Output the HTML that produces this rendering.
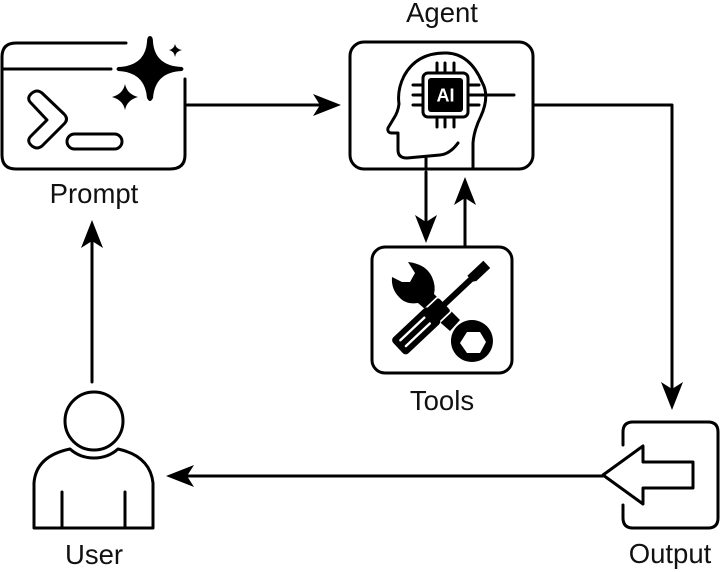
<!DOCTYPE html>
<html><head><meta charset="utf-8"><style>html,body{margin:0;padding:0;background:#fff}svg{display:block;filter:blur(.35px)}text{font-family:"Liberation Sans",sans-serif;font-size:27.5px;fill:#111;text-anchor:middle}</style></head>
<body>
<svg width="720" height="572" viewBox="0 0 720 572" xmlns="http://www.w3.org/2000/svg">
<g fill="none" stroke="#000" stroke-width="3" stroke-linecap="round" stroke-linejoin="round">
<!-- Prompt -->
<path d="M126 43H16Q2 43 2 57V155Q2 169 16 169H170Q185 169 185 155V79"/>
<path d="M2 69H111"/>
<path d="M32 93Q37 89 42 93L64 114Q69 119 64 124L42 146Q37 150 32 146Q26 141 31 136L47 120L31 103Q26 98 32 93Z"/>
<rect x="67" y="134" width="55" height="15" rx="7.5"/>
<!-- Agent -->
<rect x="350" y="42" width="183" height="127" rx="14"/>
<path d="M473 168V143Q474 130 481 116Q490 96 482 82Q470 54 447 53Q417 52 404 76Q397 90 399 104Q398 112 394 118L388 128Q387 133 392 133H398V150Q398 158 407 158L440 155Q450 154 458 143"/>
<path d="M426 158V168"/>
<rect x="423" y="73" width="45" height="44" rx="5"/>
<path d="M437 63V73M445 63V73M454 63V73M437 117V127M445 117V127M454 117V127M413 85H423M413 95H423M413 105H423M468 85H479M468 105H479M468 95H514"/>
<!-- Tools -->
<rect x="372" y="247" width="140" height="126" rx="13"/>
<!-- User -->
<circle cx="94" cy="421" r="29"/>
<path d="M34 528V483Q36 456 70 449Q80 458 94 458Q108 458 118 449Q150 456 153 483V528Z"/>
<path d="M62 492V528M125 492V528"/>
<!-- Output -->
<path d="M623 445V432Q623 422 633 422H708Q718 422 718 432V518Q718 528 708 528H633Q623 528 623 518V505"/>
<path d="M603 475L643 446V462H693V488H643V504Z"/>
<!-- Connectors -->
<path d="M187 105H325M533 105H672V395M426 172V228M465 247V192M92 382V235M603 476H180"/>
</g>
<!-- Arrowheads -->
<g fill="#000">
<path d="M341 105L313 94L320 105L313 116Z"/>
<path d="M672 410L661 382L672 389L683 382Z"/>
<path d="M426 243L415 215L426 222L437 215Z"/>
<path d="M465 177L454 205L465 198L476 205Z"/>
<path d="M92 220L81 248L92 241L103 248Z"/>
<path d="M166 476L194 465L187 476L194 487Z"/>
<!-- Stars -->
<path d="M150 36Q153 36 153 42Q155 66 182 67Q185 69 182 71Q155 72 153 98Q150 104 147 98Q145 72 118 71Q115 69 118 67Q145 66 147 42Q147 36 150 36Z"/>
<path d="M125 84Q127 94 138 97Q127 100 125 110Q123 100 112 97Q123 94 125 84Z"/>
<path d="M175 44Q176 49 182 50Q176 51 175 57Q174 51 169 50Q174 49 175 44Z"/>
<!-- Chip -->
<rect x="428" y="78" width="35" height="34" rx="3"/>
<!-- Wrench head and handle -->
<path d="M408 262Q426 264 432 277Q436 286 434 294L460 320L450 331L418 303Q406 305 399 297Q391 289 392 277L402 282H410L415 273Z"/>
<!-- Wrench ring with hexagonal hole -->
<path fill-rule="evenodd" d="M472 320A21 21 0 1 1 471.900 320ZM460 343L467 332H480L486 342L480 353H467Z"/>
<!-- Screwdriver -->
<g transform="translate(398,348) rotate(-43.3)">
<path d="M46 -9H62Q64 -9 64 -6V-3H100V-5L103 -5H122V5H103L100 3H64V6Q64 9 62 9H46Z" stroke="#fff" stroke-width="3.500" paint-order="stroke"/>
<rect x="0" y="-11" width="50" height="22" rx="4"/>
<path d="M7 -4H40M7 4H40" stroke="#fff" stroke-width="2.400" fill="none" stroke-linecap="round"/>
</g>
</g>
<text x="442" y="22">Agent</text>
<text x="94" y="203">Prompt</text>
<text x="442" y="410">Tools</text>
<text x="94" y="564">User</text>
<text x="670" y="563">Output</text>
<text x="445.500" y="101.500" style="font-size:18px;font-weight:bold;fill:#fff">AI</text>
</svg>
</body></html>
